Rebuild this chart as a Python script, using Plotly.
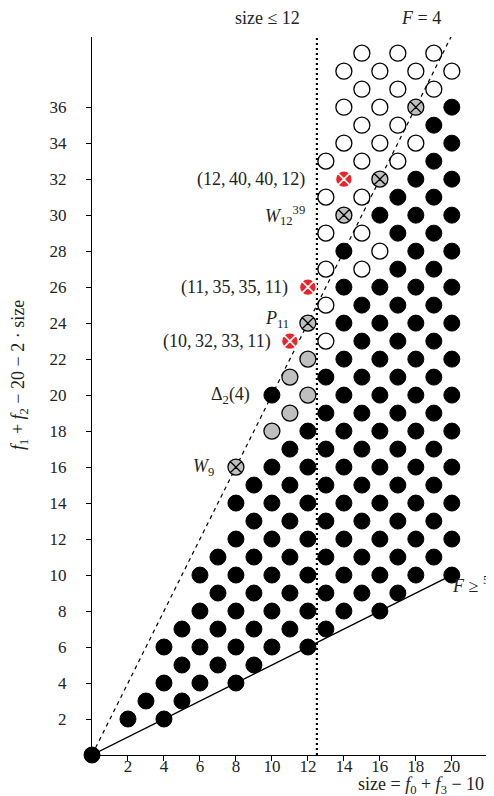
import plotly.graph_objects as go

# ---- data ----
black_x = [0,
           2, 4,
           3, 5,
           4, 6, 8,
           5, 7, 9,
           4, 6, 8, 10, 12,
           5, 7, 9, 11, 13,
           6, 8, 10, 12, 14, 16,
           7, 9, 11, 13, 15, 17,
           6, 8, 10, 12, 14, 16, 18, 20,
           7, 9, 11, 13, 15, 17, 19,
           8, 10, 12, 14, 16, 18, 20,
           9, 11, 13, 15, 17, 19,
           8, 10, 12, 14, 16, 18, 20,
           9, 11, 13, 15, 17, 19,
           10, 12, 14, 16, 18, 20,
           11, 13, 15, 17, 19,
           12, 14, 16, 18, 20,
           13, 15, 17, 19,
           10, 14, 16, 18, 20,
           13, 15, 17, 19,
           14, 16, 18, 20,
           15, 17, 19,
           14, 16, 18, 20,
           15, 17, 19,
           14, 16, 18, 20,
           17, 19,
           14, 18, 20,
           17, 19,
           16, 18, 20,
           17, 19,
           18, 20,
           19,
           20,
           19,
           20]
black_y = [0,
           2, 2,
           3, 3,
           4, 4, 4,
           5, 5, 5,
           6, 6, 6, 6, 6,
           7, 7, 7, 7, 7,
           8, 8, 8, 8, 8, 8,
           9, 9, 9, 9, 9, 9,
           10, 10, 10, 10, 10, 10, 10, 10,
           11, 11, 11, 11, 11, 11, 11,
           12, 12, 12, 12, 12, 12, 12,
           13, 13, 13, 13, 13, 13,
           14, 14, 14, 14, 14, 14, 14,
           15, 15, 15, 15, 15, 15,
           16, 16, 16, 16, 16, 16,
           17, 17, 17, 17, 17,
           18, 18, 18, 18, 18,
           19, 19, 19, 19,
           20, 20, 20, 20, 20,
           21, 21, 21, 21,
           22, 22, 22, 22,
           23, 23, 23,
           24, 24, 24, 24,
           25, 25, 25,
           26, 26, 26, 26,
           27, 27,
           28, 28, 28,
           29, 29,
           30, 30, 30,
           31, 31,
           32, 32,
           33,
           34,
           35,
           36]

open_x = [13, 13, 13, 15, 16, 13, 15, 13, 15, 13, 15, 17, 14, 16, 18, 15, 17,
          14, 16, 15, 17, 19, 14, 16, 18, 20, 15, 17, 19]
open_y = [23, 25, 27, 27, 28, 29, 29, 31, 31, 33, 33, 33, 34, 34, 34, 35, 35,
          36, 36, 37, 37, 37, 38, 38, 38, 38, 39, 39, 39]

grey_x = [10, 11, 12, 11, 12]
grey_y = [18, 19, 20, 21, 22]

greyx_x = [8, 12, 14, 16, 18]
greyx_y = [16, 24, 30, 32, 36]

red_x = [11, 12, 14]
red_y = [23, 26, 32]

x_ticks = [2, 4, 6, 8, 10, 12, 14, 16, 18, 20]
y_ticks = [2, 4, 6, 8, 10, 12, 14, 16, 18, 20, 22, 24, 26, 28, 30, 32, 34, 36]

line_F4_x = [0, 20]
line_F4_y = [0, 40]
line_low_x = [0, 20]
line_low_y = [0, 10]
size_limit = 12.5

SERIF = "Liberation Serif"
MS = 16
FS = 17      # tick labels
FA = 18      # annotations

fig = go.Figure()

# lines
fig.add_trace(go.Scatter(x=line_F4_x, y=line_F4_y, mode="lines",
                         line=dict(color="black", width=1.2, dash="4px,4px"),
                         hoverinfo="skip", cliponaxis=False))
fig.add_trace(go.Scatter(x=line_low_x, y=line_low_y, mode="lines",
                         line=dict(color="black", width=1.3),
                         hoverinfo="skip", cliponaxis=False))
fig.add_trace(go.Scatter(x=[size_limit, size_limit], y=[0, 39.9], mode="lines",
                         line=dict(color="black", width=2.2, dash="2px,3px"),
                         hoverinfo="skip", cliponaxis=False))

# markers
fig.add_trace(go.Scatter(x=black_x, y=black_y, mode="markers", cliponaxis=False,
                         marker=dict(size=MS, color="black",
                                     line=dict(color="black", width=1))))
fig.add_trace(go.Scatter(x=open_x, y=open_y, mode="markers", cliponaxis=False,
                         marker=dict(size=MS, color="white",
                                     line=dict(color="black", width=1.3))))
fig.add_trace(go.Scatter(x=grey_x, y=grey_y, mode="markers", cliponaxis=False,
                         marker=dict(size=MS, color="#bfbfbf",
                                     line=dict(color="black", width=1.3))))
fig.add_trace(go.Scatter(x=greyx_x, y=greyx_y, mode="markers", cliponaxis=False,
                         marker=dict(size=MS, color="#bfbfbf", symbol="circle-x",
                                     line=dict(color="black", width=1.3))))
fig.add_trace(go.Scatter(x=red_x, y=red_y, mode="markers", cliponaxis=False,
                         marker=dict(size=MS + 1, color="#ee2229", symbol="circle-x",
                                     line=dict(color="white", width=1.6))))

ann = []


def lab(x, y, text, xanchor="right", yanchor="middle", ref="x", yref="y", angle=0):
    ann.append(dict(x=x, y=y, xref=ref, yref=yref, text=text, showarrow=False,
                    xanchor=xanchor, yanchor=yanchor, textangle=angle,
                    font=dict(family=SERIF, size=FA, color="#222")))


lab(11.95, 32, "(12,\u200940,\u200940,\u200912)")
lab(11.95, 30, "<i>W</i><sub>12</sub><sup>39</sup>")
lab(11.0, 26, "(11,\u200935,\u200935,\u200911)")
lab(11.05, 24.2, "<i>P</i><sub>11</sub>")
lab(10.05, 23, "(10,\u200932,\u200933,\u200911)")
lab(8.9, 20, "\u0394<sub>2</sub>(4)")
lab(6.9, 16, "<i>W</i><sub>9</sub>")
lab(19.9, 9.4, "<i>F</i> \u2265 <sup>5</sup>/<sub>2</sub>\u00b7size", xanchor="left")
# outside-plot labels (paper coords)
lab(0.522, 1.027, "size \u2264 12", ref="paper", yref="paper")
lab(0.816, 1.027, "<i>F</i> = 4", xanchor="center", ref="paper", yref="paper")
lab(0.655, -0.043, "size = <i>f</i><sub>0</sub> + <i>f</i><sub>3</sub> \u2212 10",
    xanchor="left", ref="paper", yref="paper")
lab(-0.18, 0.53,
    "<i>f</i><sub>1</sub> + <i>f</i><sub>2</sub> \u2212 20 \u2212 2 \u00b7 size",
    xanchor="center", ref="paper", yref="paper", angle=-90)

fig.update_layout(
    width=494, height=796,
    margin=dict(l=84, r=7, t=29, b=49),
    paper_bgcolor="white", plot_bgcolor="white",
    showlegend=False,
    annotations=ann,
    xaxis=dict(range=[0, 22.4], showgrid=False, zeroline=False,
               showline=True, linecolor="black", linewidth=1.3,
               ticks="outside", ticklen=5, tickwidth=1.2, tickcolor="black",
               tickvals=x_ticks, ticktext=[str(v) for v in x_ticks],
               ticklabelstandoff=-10,
               tickfont=dict(family=SERIF, size=FS, color="#222")),
    yaxis=dict(range=[0, 39.9], showgrid=False, zeroline=False,
               showline=True, linecolor="black", linewidth=1.3,
               ticks="outside", ticklen=5, tickwidth=1.2, tickcolor="black",
               tickvals=y_ticks, ticktext=[str(v) for v in y_ticks],
               ticklabelstandoff=16,
               tickfont=dict(family=SERIF, size=FS, color="#222")),
)

fig.write_html("out.html")
